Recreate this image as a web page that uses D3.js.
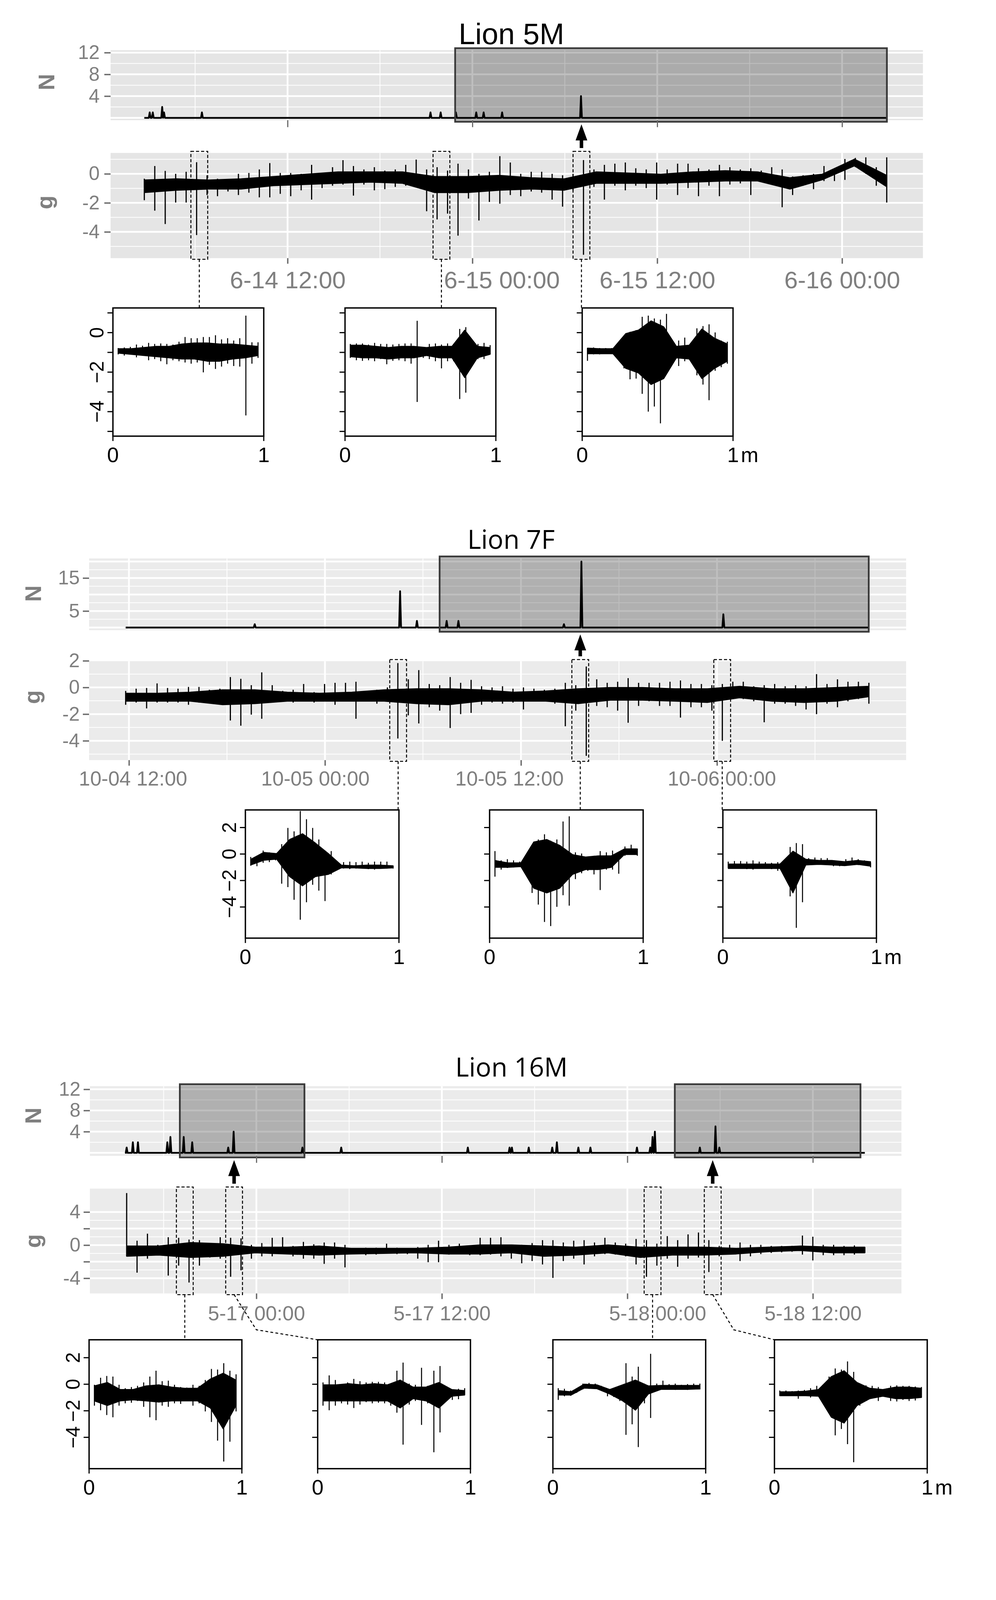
<!DOCTYPE html>
<html>
<head>
<meta charset="utf-8">
<title>Lion activity: N and g traces</title>
<script src="https://cdn.jsdelivr.net/npm/d3@7/dist/d3.min.js"></script>
<style>
  body { margin: 0; background: #fff; }
  svg { display: block; background: #fff; }
</style>
</head>
<body>
<svg id="vis" width="2549" height="4593"></svg>
<script>
// ---------- Lion 5M ----------
var lion5Ref = "2012-06-14T12:00:00";
var lion5TimeTicks = ["2012-06-14T12:00:00", "2012-06-15T00:00:00", "2012-06-15T12:00:00", "2012-06-16T00:00:00"];
var lion5TimeLabels = ["6-14 12:00", "6-15 00:00", "6-15 12:00", "6-16 00:00"];
var lion5NTicks = [4, 8, 12];
var lion5NLabels = ["4", "8", "12"];
var lion5GTicks = [0, -2, -4];
var lion5GLabels = ["0", "-2", "-4"];
var lion5Span = [-9.3, 38.9];            // hours from ref
var lion5NHours = [-8.95, -8.75, -8.14, -8.02, -5.56, 9.28, 9.94, 10.93, 12.25, 12.73, 13.93, 19.05];
var lion5NCounts = [1, 1, 2, 1, 1, 1, 1, 1, 1, 1, 1, 4];
var lion5GHi = [-0.34, 0.54, 0.2, 0, 0.14, 0.8, -0.1, -0.34, -0.42, 0, 0.06, 0.3, 0.74, 0.06, 0.06, 0, 0.62, 0.06,
  0.46, 0.94, 0.54, 0.3, 0.46, 0.22, 0.3, 0.62, 0.98, 0.3, 0.46, 0.22, 0.7, 0.3, 0, 0.14, 1.22, 0.78, 0, 0.14,
  0.14, 0, -0.1, 0, 0.95, 0.3, 0.62, 0.7, 0.78, 0.38, 0.3, 0.78, 0.3, 0.7, 0.7, 0.38, 0.3, 0.62, 0.46, 0.3,
  0.38, 0.22, 0.46, 0.3, -0.18, -0.1, 0, 0.54, 0.06, 1.02, 1.1, 1.14, 0.46, 1.14];
var lion5GLo = [-1.82, -2.54, -3.46, -1.98, -1.98, -4.22, -1.46, -1.54, -1.22, -1.46, -1.3, -1.62, -1.62, -1.38,
  -1.54, -1.14, -1.78, -0.98, -0.82, -0.74, -1.5, -0.74, -1.14, -1.06, -0.9, -0.82, -0.5, -2.58, -3.14, -2.74,
  -4.26, -1.7, -3.22, -1.94, -2.06, -1.46, -1.54, -1.22, -1.3, -1.78, -2.26, -1.14, -5.58, -0.9, -1.78, -0.82,
  -1.14, -0.82, -0.98, -1.78, -0.74, -1.46, -0.98, -1.54, -0.82, -1.54, -0.74, -0.66, -1.46, -0.5, -0.58, -2.3,
  -1.46, -0.82, -1.06, -0.5, -0.5, -0.42, 0.46, 0, -0.82, -1.98];
var lion5CoreHi = [-0.42, -0.34, -0.42, -0.34, -0.18, -0.02, 0.14, 0.14, 0.14, -0.18, -0.18, -0.1, -0.26, -0.34,
  0.14, 0.06, -0.02, 0.14, 0.22, 0.14, -0.26, -0.02, 1.02, -0.1];
var lion5CoreLo = [-1.3, -1.14, -1.06, -1.06, -0.82, -0.74, -0.66, -0.58, -0.66, -1.3, -1.3, -1.14, -1.06, -1.14,
  -0.66, -0.66, -0.66, -0.58, -0.5, -0.5, -1.06, -0.42, 0.54, -0.9];
var lion5Events = [-5.73, 9.99, 19.08];
var lion5Shade = [[10.88, 38.91]];
var lion5Arrows = [19.08];
var lion5InsetTicks = [1, 0, -1, -2, -3, -4, -5];
var lion5InsetLabels = ["", "0", "", "\u22122", "", "\u22124", ""];
var lion5InsetHi = [
  [-0.78, -0.75, -0.72, -0.6, -0.66, -0.52, -0.57, -0.55, -0.57, -0.6, -0.46, -0.22, -0.28, -0.28, -0.22, -0.22, -0.13, -0.34, -0.28, -0.4, -0.28, 0.86, -0.49, -0.49],
  [-0.57, -0.55, -0.55, -0.6, -0.52, -0.57, -0.57, -0.6, -0.57, -0.55, -0.55, 0.6, -0.87, -0.57, -0.55, -0.6, -0.55, -0.57, 0.19, 0.28, -0.55, -0.57, -0.52, -0.63],
  [-0.78, -0.75, -0.78, -0.78, -0.78, -0.75, -0.28, 0.04, 0.13, 0.8, 0.86, 0.72, 0.66, 0.95, -0.72, -0.4, -0.25, -0.57, 0.22, 0.33, 0.42, 0.01, -0.4, -0.46]];
var lion5InsetLo = [
  [-1.1, -1.16, -1.1, -1.25, -1.16, -1.4, -1.34, -1.45, -1.6, -1.4, -1.45, -1.51, -1.57, -1.51, -2.01, -1.63, -1.84, -1.72, -1.57, -1.69, -1.72, -4.19, -1.57, -1.28],
  [-1.28, -1.4, -1.43, -1.4, -1.45, -1.34, -1.6, -1.43, -1.4, -1.45, -1.57, -3.51, -1.28, -1.34, -1.45, -1.81, -1.45, -1.45, -3.36, -3.04, -1.4, -1.34, -1.34, -1.1],
  [-1.43, -1.1, -1.1, -1.07, -1.07, -1.07, -1.81, -2.36, -2.33, -3.1, -4.0, -3.74, -4.59, -2.04, -1.28, -1.69, -1.45, -1.22, -2.16, -2.63, -3.42, -1.93, -1.75, -1.57]];
var lion5InsetCoreHi = [
  [-0.81, -0.81, -0.75, -0.69, -0.69, -0.57, -0.52, -0.52, -0.57, -0.57, -0.63, -0.69],
  [-0.63, -0.63, -0.69, -0.75, -0.69, -0.69, -0.75, -0.69, -0.69, 0.13, -0.69, -0.75],
  [-0.78, -0.81, -0.81, -0.05, 0.13, 0.6, 0.3, -0.69, -0.63, 0.19, -0.28, -0.57]];
var lion5InsetCoreLo = [
  [-1.04, -1.1, -1.16, -1.22, -1.28, -1.34, -1.34, -1.45, -1.45, -1.34, -1.28, -1.16],
  [-1.22, -1.28, -1.28, -1.34, -1.28, -1.28, -1.16, -1.28, -1.28, -2.28, -1.28, -1.1],
  [-1.07, -1.07, -1.07, -1.81, -2.04, -2.63, -2.33, -1.28, -1.34, -2.33, -1.81, -1.45]];

// ---------- Lion 7F ----------
var lion7Ref = "2012-10-04T12:00:00";
var lion7TimeTicks = ["2012-10-04T12:00:00", "2012-10-05T00:00:00", "2012-10-05T12:00:00", "2012-10-06T00:00:00"];
var lion7TimeLabels = ["10-04 12:00", "10-05 00:00", "10-05 12:00", "10-06 00:00"];
var lion7NTicks = [5, 15];
var lion7NLabels = ["5", "15"];
var lion7GTicks = [2, 0, -2, -4];
var lion7GLabels = ["2", "0", "-2", "-4"];
var lion7Span = [-0.2, 45.3];
var lion7NHours = [7.7, 16.6, 17.63, 19.45, 20.17, 26.63, 27.7, 36.39];
var lion7NCounts = [1, 11, 2, 2, 2, 1, 20, 4];
var lion7GHi = [-0.26, -0.09, -0.04, 0.3, -0.04, -0.09, 0.04, 0.04, -0.17, -0.09, 0.78, 0.65, 0.17, 1.13, 0.17,
  -0.26, -0.17, 0.26, -0.35, 0.26, 0.35, 0.35, 0.43, -0.26, -0.17, 0, 1.83, 0.61, 1.3, 0.26, 0.17, 0.78, 0.35,
  0.57, 0.09, 0, 0.09, -0.09, 0, -0.09, -0.17, -0.09, 0.35, 0.17, 1.57, 0.61, 0.35, 0.43, 0.7, 0.35, 0.35, 0.35,
  0.43, 0.52, 0.26, 0.26, 0.17, 0.26, 0.43, 0.43, 0.09, 0.17, 0.26, 0.09, 0.17, 0.09, 1.0, 0.26, 0.61, 0.43,
  0.43, 0.35];
var lion7GLo = [-1.3, -1.13, -1.57, -1.13, -1.13, -1.13, -1.3, -1.13, -1.13, -1.22, -2.48, -2.87, -2.04, -2.35,
  -1.13, -1.04, -1.13, -1.04, -1.13, -1.04, -1.3, -1.04, -2.35, -1.04, -1.22, -1.04, -3.83, -2.09, -2.7, -1.48,
  -1.74, -3.04, -2.0, -1.91, -1.3, -1.13, -1.22, -1.13, -1.65, -1.04, -1.04, -1.22, -2.91, -1.74, -5.13, -1.39,
  -1.48, -1.74, -2.65, -1.39, -1.04, -1.39, -1.39, -2.26, -1.48, -1.48, -1.74, -4.0, -0.87, -0.87, -1.04, -2.61,
  -1.22, -1.22, -1.39, -1.65, -2.0, -1.22, -1.48, -1.04, -0.87, -1.22];
var lion7CoreHi = [-0.43, -0.43, -0.35, -0.17, -0.17, -0.35, -0.43, -0.35, -0.17, -0.09, -0.09, -0.17, -0.35,
  -0.26, -0.09, 0, 0, -0.09, -0.09, 0.09, -0.09, -0.09, 0, 0.09];
var lion7CoreLo = [-1.04, -1.04, -1.04, -1.3, -1.22, -1.04, -1.04, -1.04, -1.04, -1.22, -1.3, -1.04, -1.04,
  -1.04, -1.22, -0.96, -0.96, -1.04, -1.13, -0.78, -1.04, -1.13, -1.04, -0.7];
var lion7Events = [16.48, 27.63, 36.32];
var lion7Shade = [[19.02, 45.29]];
var lion7Arrows = [27.63];
var lion7InsetTicks = [2, 0, -2, -4];
var lion7InsetLabels = ["2", "0", "\u22122", "\u22124"];
var lion7InsetHi = [
  [-0.22, -0.39, 0.26, 0.13, 0.04, 0.75, 1.97, 1.71, 3.25, 2.63, 1.97, 1.1, 0.26, 0.22, -0.57, -0.61, -0.57, -0.61, -0.57, -0.66, -0.57, -0.57, -0.57, -0.88],
  [0.22, -0.48, -0.39, -0.48, -0.57, -0.48, 0.66, 1.1, 1.49, 1.01, 1.1, 2.46, 2.85, 0.13, 0.04, -0.22, -0.13, 0.22, 0.13, 0.26, 0.04, 0.57, 0.7, 0.39],
  [-0.57, -0.53, -0.53, -0.57, -0.48, -0.57, -0.61, -0.66, -0.61, -0.57, 0.53, 0.83, 0.75, -0.31, -0.26, -0.31, -0.31, -0.48, -0.57, -0.39, -0.26, -0.39, -0.48, -0.66]];
var lion7InsetLo = [
  [-0.88, -0.92, -0.66, -0.61, -0.48, -2.24, -2.5, -3.46, -4.96, -3.64, -2.32, -2.76, -3.55, -1.54, -1.14, -1.1, -1.14, -1.1, -1.05, -1.14, -1.18, -1.05, -1.1, -1.1],
  [-1.71, -1.18, -1.05, -1.01, -0.96, -1.01, -2.94, -3.82, -5.13, -5.44, -3.99, -3.11, -3.9, -1.89, -1.45, -1.27, -1.54, -2.72, -1.18, -1.18, -1.49, -0.13, 0.13, -0.13],
  [-1.05, -1.05, -1.1, -1.14, -1.18, -1.1, -1.1, -1.14, -1.27, -1.18, -3.2, -5.57, -3.64, -0.83, -0.75, -0.7, -0.75, -0.92, -0.92, -0.88, -0.79, -0.83, -0.79, -1.01]];
var lion7InsetCoreHi = [
  [-0.39, 0.13, 0.04, 1.1, 1.54, 0.83, 0.04, -0.83, -0.88, -0.83, -0.83, -0.88],
  [-0.48, -0.66, -0.66, 0.92, 1.1, 0.66, -0.04, -0.22, -0.13, -0.13, 0.39, 0.39],
  [-0.75, -0.75, -0.75, -0.75, -0.75, 0.22, -0.39, -0.48, -0.48, -0.57, -0.48, -0.57]];
var lion7InsetCoreLo = [
  [-0.83, -0.48, -0.39, -1.71, -2.41, -1.71, -1.54, -1.05, -1.05, -1.1, -1.1, -1.05],
  [-1.01, -1.01, -0.96, -2.59, -2.94, -2.59, -1.54, -1.18, -1.18, -1.01, -0.04, -0.04],
  [-1.1, -1.1, -1.1, -1.1, -1.1, -2.94, -0.83, -0.79, -0.83, -0.88, -0.79, -0.92]];

// ---------- Lion 16M ----------
var lion16Ref = "2012-05-17T00:00:00";
var lion16TimeTicks = ["2012-05-17T00:00:00", "2012-05-17T12:00:00", "2012-05-18T00:00:00", "2012-05-18T12:00:00"];
var lion16TimeLabels = ["5-17 00:00", "5-17 12:00", "5-18 00:00", "5-18 12:00"];
var lion16NTicks = [4, 8, 12];
var lion16NLabels = ["4", "8", "12"];
var lion16GTicks = [4, 2, 0, -2, -4];
var lion16GLabels = ["4", "", "0", "", "-4"];
var lion16Span = [-8.39, 39.36];
var lion16NHours = [-8.39, -7.99, -7.66, -5.76, -5.56, -4.7, -4.15, -1.82, -1.47, 2.98, 5.49, 13.68, 16.38, 16.53,
  17.62, 19.14, 19.44, 20.83, 21.61, 24.62, 25.48, 25.63, 25.78, 28.69, 29.7, 29.95];
var lion16NCounts = [1, 2, 2, 2, 3, 3, 2, 1, 4, 1, 1, 1, 1, 1, 1, 1, 2, 1, 1, 1, 1, 3, 4, 1, 5, 1];
var lion16GHi = [6.29, 0.53, 1.38, 0.04, 0.95, 0.88, 0.67, 0.6, 0.18, 0.95, 0.88, 0.81, 0.04, 0.25, 0.88, 0.95,
  -0.1, 0.39, 0.11, 0.32, 0.32, 0.04, -0.38, -0.31, -0.31, 0.18, -0.31, -0.38, -0.24, 0.04, 0.53, 0.04, 0.18,
  -0.1, 0.88, 0.88, 0.95, 0.04, 0.04, 0.25, 0.6, 0.6, 0.32, 0.53, 0.6, 0.32, 0.88, 0.32, 0.18, 0.74, 0.6, 0.18,
  1.09, 0.6, 1.3, 1.52, 0.6, -0.1, 0.04, 0.32, 0.04, 0.04, -0.1, -0.1, -0.1, 1.16, 1.02, 0.04, 0.04, -0.1,
  -0.03, -0.24];
var lion16GLo = [-1.36, -3.33, -1.64, -1.08, -3.68, -2.48, -4.52, -2.48, -1.5, -1.64, -3.82, -3.05, -1.64, -1.36,
  -1.36, -0.8, -1.36, -1.64, -1.64, -2.27, -1.64, -2.69, -1.08, -1.22, -1.15, -0.94, -1.08, -1.08, -1.64, -2.06,
  -2.06, -1.15, -1.08, -1.22, -1.22, -1.15, -1.36, -1.64, -2.2, -1.92, -2.34, -3.96, -1.92, -1.64, -2.34, -1.36,
  -1.08, -1.15, -1.36, -2.34, -3.82, -2.48, -1.64, -2.62, -1.64, -1.5, -3.26, -1.36, -1.08, -1.92, -1.36, -1.08,
  -0.94, -0.87, -0.8, -1.15, -1.85, -1.22, -1.22, -1.22, -1.15, -0.94];
var lion16CoreHi = [-0.1, -0.1, 0.32, 0.18, -0.24, -0.24, -0.1, -0.38, -0.38, -0.38, -0.24, 0.04, 0.04, -0.1,
  -0.24, 0.04, -0.24, -0.24, -0.24, -0.38, -0.24, -0.1, -0.24, -0.24];
var lion16CoreLo = [-1.36, -1.22, -1.5, -1.36, -0.94, -1.08, -1.22, -1.08, -1.01, -0.94, -1.08, -1.08, -0.94,
  -1.36, -1.22, -0.94, -1.5, -1.22, -1.22, -1.08, -0.8, -0.66, -0.94, -0.94];
var lion16Events = [-4.63, -1.44, 25.63, 29.52];
var lion16Shade = [[-4.95, 3.11], [27.07, 39.08]];
var lion16Arrows = [-1.44, 29.52];
var lion16InsetTicks = [2, 0, -2, -4];
var lion16InsetLabels = ["2", "0", "\u22122", "\u22124"];
var lion16InsetHi = [
  [-0.04, 0.49, 0.62, 0.58, -0.04, -0.3, -0.21, -0.12, 0.14, 0.58, 1.02, 0.23, 0.27, -0.04, -0.21, -0.25, -0.04, -0.12, 0.32, 1.15, 1.11, 1.59, 1.02, 0.75],
  [0.14, 0.67, 0.32, -0.04, 0.14, 0.4, 0.23, 0.14, 0.18, 0.18, 0.14, 0.05, 1.02, 1.63, 0.05, -0.04, 1.24, -0.12, 1.02, 1.37, -0.21, -0.39, -0.34, -0.3],
  [-0.3, -0.34, -0.47, -0.39, 0.05, 0.1, 0.05, -0.12, -0.34, -0.3, -0.21, 1.59, 0.58, 1.32, 0.05, 2.29, 0.05, 0.27, 0.01, 0.05, -0.04, 0.01, 0.05, 0.05],
  [-0.47, -0.47, -0.52, -0.47, -0.43, -0.3, -0.12, -0.04, 0.58, 1.19, 1.11, 1.72, 0.93, -0.04, -0.08, -0.12, -0.21, -0.39, -0.12, -0.08, -0.12, -0.12, -0.17, -0.21]];
var lion16InsetLo = [
  [-1.61, -1.96, -2.32, -2.49, -1.61, -1.44, -1.39, -1.26, -1.7, -2.49, -2.71, -1.61, -1.7, -1.44, -1.48, -1.26, -1.61, -1.44, -2.05, -2.84, -4.25, -5.82, -4.33, -2.05],
  [-1.61, -1.96, -1.61, -1.44, -1.53, -1.79, -1.53, -1.35, -1.44, -1.39, -1.44, -1.61, -2.14, -4.55, -1.53, -1.26, -3.06, -1.44, -5.12, -3.63, -1.09, -1.18, -1.13, -0.82],
  [-1.18, -0.91, -0.87, -0.65, -0.39, -0.34, -0.34, -0.47, -0.91, -0.96, -1.26, -3.81, -3.02, -4.73, -1.44, -2.54, -0.39, -0.39, -0.39, -0.43, -0.39, -0.43, -0.34, -0.39],
  [-0.87, -0.87, -0.87, -1.09, -0.82, -1.0, -0.91, -1.26, -1.96, -3.85, -3.37, -4.51, -5.87, -1.61, -1.26, -0.91, -1.26, -0.87, -1.26, -1.3, -1.18, -1.26, -1.22, -1.0]];
var lion16InsetCoreHi = [
  [-0.12, 0.14, -0.39, -0.39, -0.12, -0.04, -0.21, -0.3, -0.3, 0.4, 0.84, 0.32],
  [-0.04, -0.04, 0.05, -0.04, 0.05, -0.04, 0.32, -0.21, -0.21, 0.14, -0.39, -0.47],
  [-0.47, -0.56, 0.01, -0.04, -0.39, -0.04, 0.32, -0.12, -0.08, -0.08, -0.08, -0.08],
  [-0.56, -0.56, -0.52, -0.39, 0.58, 1.02, 0.14, -0.3, -0.39, -0.21, -0.21, -0.3]];
var lion16InsetCoreLo = [
  [-1.26, -1.61, -1.26, -1.18, -1.26, -1.35, -1.26, -1.26, -1.26, -1.79, -3.37, -1.61],
  [-1.26, -1.26, -1.26, -1.26, -1.26, -1.26, -1.79, -1.09, -1.26, -1.79, -0.91, -0.82],
  [-0.82, -0.82, -0.3, -0.34, -0.74, -1.26, -1.96, -0.74, -0.39, -0.39, -0.39, -0.36],
  [-0.87, -0.87, -0.87, -0.91, -2.49, -2.93, -1.61, -1.09, -0.91, -1.09, -1.09, -1.0]];

var insetSpan = [0.035, 0.962];           // minutes covered by each zoomed trace
var insetXTicks = [0, 1];

// ---------- layout (pixels, designed for a 2549 x 4593 page) ----------
var lions = [
  { title: "Lion 5M", titleFont: "'Liberation Sans', Arial, sans-serif", titleSize: 76, titleX: 1309, titleY: 127,
    tickFont: "'Liberation Sans Narrow', 'Liberation Sans', sans-serif", xTickSize: 62, yTickSize: 50, xLabelPad: 26,
    xLabelDx: [0, 75, 0, 0], left: 283, right: 2362, xDomainH: [-11.49, 41.25], bg: "#E5E5E5",
    nTop: 144, nBottom: 345, nDomain: [-0.43, 12.45], nMajor: [0, 4, 8, 12], nMinor: [2, 6, 10], nXTicks: true,
    gTop: 439, gBottom: 741, gDomain: [-5.81, 1.44], gMajor: [0, -2, -4], gMinor: [1, -1, -3, -5],
    yLabelPad: 12, nTitleX: 118, gTitleX: 125, nTitleDy: -9, gTitleDy: -9,
    insetLefts: [289, 883, 1490], insetW: 386, insetTop: 884, insetBottom: 1252, insetDomain: [-5.24, 1.25],
    bends: [null, null, null],
    ref: lion5Ref, ticks: lion5TimeTicks, tickLabels: lion5TimeLabels, nTicks: lion5NTicks, nLabels: lion5NLabels,
    gTicks: lion5GTicks, gLabels: lion5GLabels, span: lion5Span, nHours: lion5NHours, nCounts: lion5NCounts,
    gHi: lion5GHi, gLo: lion5GLo, coreHi: lion5CoreHi, coreLo: lion5CoreLo,
    events: lion5Events, shade: lion5Shade, arrows: lion5Arrows,
    insetTicks: lion5InsetTicks, insetLabels: lion5InsetLabels, insetHi: lion5InsetHi, insetLo: lion5InsetLo,
    insetCoreHi: lion5InsetCoreHi, insetCoreLo: lion5InsetCoreLo },
  { title: "Lion 7F", titleFont: "'Open Sans', sans-serif", titleSize: 67, titleX: 1308, titleY: 1575,
    tickFont: "'Liberation Sans', Arial, sans-serif", xTickSize: 52, yTickSize: 50, xLabelPad: 20,
    xLabelDx: [10, -25, -30, 12], left: 228, right: 2319, xDomainH: [-2.44, 47.58], bg: "#EBEBEB",
    nTop: 1603, nBottom: 1809, nDomain: [-0.81, 20.94], nMajor: [0, 5, 10, 15, 20], nMinor: [2.5, 7.5, 12.5, 17.5], nXTicks: false,
    gTop: 1898, gBottom: 2182, gDomain: [-5.45, 1.97], gMajor: [2, 0, -2, -4], gMinor: [1, -1, -3, -5],
    yLabelPad: 8, nTitleX: 84, gTitleX: 93, nTitleDy: -2, gTitleDy: -39,
    insetLefts: [628, 1253, 1850], insetW: 393, insetTop: 2325, insetBottom: 2693, insetDomain: [-6.35, 3.33],
    bends: [null, null, null],
    ref: lion7Ref, ticks: lion7TimeTicks, tickLabels: lion7TimeLabels, nTicks: lion7NTicks, nLabels: lion7NLabels,
    gTicks: lion7GTicks, gLabels: lion7GLabels, span: lion7Span, nHours: lion7NHours, nCounts: lion7NCounts,
    gHi: lion7GHi, gLo: lion7GLo, coreHi: lion7CoreHi, coreLo: lion7CoreLo,
    events: lion7Events, shade: lion7Shade, arrows: lion7Arrows,
    insetTicks: lion7InsetTicks, insetLabels: lion7InsetLabels, insetHi: lion7InsetHi, insetLo: lion7InsetLo,
    insetCoreHi: lion7InsetCoreHi, insetCoreLo: lion7InsetCoreLo },
  { title: "Lion 16M", titleFont: "'Open Sans', sans-serif", titleSize: 67, titleX: 1309, titleY: 3090,
    tickFont: "'Liberation Sans', Arial, sans-serif", xTickSize: 52, yTickSize: 50, xLabelPad: 24,
    xLabelDx: [0, 0, 77, 0], left: 230, right: 2307, xDomainH: [-10.77, 41.73], bg: "#EBEBEB",
    nTop: 3118, nBottom: 3318, nDomain: [-0.57, 12.59], nMajor: [0, 4, 8, 12], nMinor: [2, 6, 10], nXTicks: true,
    gTop: 3412, gBottom: 3713, gDomain: [-5.84, 6.83], gMajor: [4, 2, 0, -2, -4], gMinor: [3, 1, -1, -3],
    yLabelPad: 8, nTitleX: 84, gTitleX: 95, nTitleDy: -15, gTitleDy: 0,
    insetLefts: [228, 813, 1415, 1982], insetW: 391, insetTop: 3846, insetBottom: 4216, insetDomain: [-6.36, 3.35],
    bends: [null, [57, 101], null, [54, 101]],
    ref: lion16Ref, ticks: lion16TimeTicks, tickLabels: lion16TimeLabels, nTicks: lion16NTicks, nLabels: lion16NLabels,
    gTicks: lion16GTicks, gLabels: lion16GLabels, span: lion16Span, nHours: lion16NHours, nCounts: lion16NCounts,
    gHi: lion16GHi, gLo: lion16GLo, coreHi: lion16CoreHi, coreLo: lion16CoreLo,
    events: lion16Events, shade: lion16Shade, arrows: lion16Arrows,
    insetTicks: lion16InsetTicks, insetLabels: lion16InsetLabels, insetHi: lion16InsetHi, insetLo: lion16InsetLo,
    insetCoreHi: lion16InsetCoreHi, insetCoreLo: lion16InsetCoreLo }
];

// the window may be shorter than the page the layout was made for: squeeze the vertical positions
var PAGE_H = 4593;
var SY = Math.min(1, (window.innerHeight || PAGE_H) / PAGE_H);
lions.forEach(function (L) {
  ["titleY", "nTop", "nBottom", "gTop", "gBottom", "insetTop", "insetBottom", "nTitleDy", "gTitleDy"]
    .forEach(function (k) { L[k] *= SY; });
  L.bends = L.bends.map(function (b) { return b ? [b[0], b[1] * SY] : null; });
});

var svg = d3.select("#vis").attr("height", Math.ceil(PAGE_H * SY));
var GREY = "#7f7f7f";
var INSET_FONT = 50;

function at(ref, h) { return new Date(ref.getTime() + h * 3600000); }

// values per bin, spread evenly over [t0, t1]: [t, hi, lo]
function bins(t0, t1, hi, lo) {
  var n = hi.length, step = (t1 - t0) / (n - 1);
  return hi.map(function (v, i) { return [t0 + i * step, v, lo[i]]; });
}

// count series: zero everywhere except the counted bins
function countSeries(t0, t1, hours, vals) {
  var hw = 0.06, pts = [[t0, 0]];
  hours.forEach(function (h, i) { pts.push([h - hw, 0], [h, vals[i]], [h + hw, 0]); });
  pts.push([t1, 0]);
  return pts;
}

function styleAxis(sel, font, size) {
  sel.select(".domain").remove();
  sel.selectAll(".tick line").attr("stroke", "#6b6b6b").attr("stroke-width", 3.5);
  sel.selectAll(".tick text").attr("fill", GREY)
    .style("font-family", font).style("font-size", size + "px");
}

function hGrid(g, L, y, vals, width) {
  var dom = y.domain();
  g.selectAll(null).data(vals.filter(function (v) { return v > dom[0] && v < dom[1]; }))
    .enter().append("line")
    .attr("x1", L.left).attr("x2", L.right)
    .attr("y1", function (v) { return y(v); }).attr("y2", function (v) { return y(v); })
    .attr("stroke", "#fff").attr("stroke-width", width);
}

function vGrid(g, x, dates, top, bottom, width) {
  var dom = x.domain();
  g.selectAll(null).data(dates.filter(function (d) { return d > dom[0] && d < dom[1]; }))
    .enter().append("line")
    .attr("x1", function (d) { return x(d); }).attr("x2", function (d) { return x(d); })
    .attr("y1", top).attr("y2", bottom)
    .attr("stroke", "#fff").attr("stroke-width", width);
}

// dense core as a filled band, per-bin extremes as vertical strokes
function drawTrace(g, xf, y, t0, t1, hi, lo, cHi, cLo, width) {
  var band = d3.area().x(function (d) { return xf(d[0]); })
    .y0(function (d) { return y(d[2]); }).y1(function (d) { return y(d[1]); });
  g.append("path").datum(bins(t0, t1, cHi, cLo)).attr("d", band)
    .attr("fill", "#000").attr("stroke", "#000").attr("stroke-width", 2).attr("stroke-linejoin", "round");
  var spikes = bins(t0, t1, hi, lo).map(function (d) {
    var px = xf(d[0]);
    return "M" + px + "," + y(d[1]) + "V" + y(d[2]);
  }).join("");
  g.append("path").attr("d", spikes).attr("fill", "none").attr("stroke", "#000")
    .attr("stroke-width", width).attr("stroke-linecap", "butt");
}

function drawLion(L) {
  var ref = new Date(L.ref);
  var g = svg.append("g");
  var x = d3.scaleTime().domain([at(ref, L.xDomainH[0]), at(ref, L.xDomainH[1])]).range([L.left, L.right]);
  var yN = d3.scaleLinear().domain(L.nDomain).range([L.nBottom, L.nTop]);
  var yG = d3.scaleLinear().domain(L.gDomain).range([L.gBottom, L.gTop]);
  var xh = function (h) { return x(at(ref, h)); };

  var majors = L.ticks.map(function (s) { return new Date(s); });
  var minors = majors.map(function (d) { return d3.timeHour.offset(d, -6); })
    .concat([d3.timeHour.offset(majors[majors.length - 1], 6)]);

  g.append("text").text(L.title)
    .attr("x", L.titleX).attr("y", L.titleY).attr("text-anchor", "middle")
    .style("font-family", L.titleFont).style("font-size", L.titleSize + "px").attr("fill", "#000");

  // ---- panel backgrounds and grids ----
  [[L.nTop, L.nBottom, yN, L.nMajor, L.nMinor], [L.gTop, L.gBottom, yG, L.gMajor, L.gMinor]].forEach(function (p) {
    g.append("rect").attr("x", L.left).attr("y", p[0]).attr("width", L.right - L.left)
      .attr("height", p[1] - p[0]).attr("fill", L.bg);
    hGrid(g, L, p[2], p[4], 2);
    vGrid(g, x, minors, p[0], p[1], 2);
    hGrid(g, L, p[2], p[3], 4.5);
    vGrid(g, x, majors, p[0], p[1], 4.5);
  });

  // ---- N trace ----
  var nLine = d3.line().x(function (d) { return xh(d[0]); }).y(function (d) { return yN(d[1]); });
  g.append("path").datum(countSeries(L.span[0], L.span[1], L.nHours, L.nCounts))
    .attr("d", nLine).attr("fill", "none").attr("stroke", "#000")
    .attr("stroke-width", 4.5).attr("stroke-linejoin", "round");

  // shaded periods
  g.selectAll(null).data(L.shade).enter().append("rect")
    .attr("x", function (s) { return xh(s[0]); })
    .attr("width", function (s) { return xh(s[1]) - xh(s[0]); })
    .attr("y", L.nTop - 5).attr("height", L.nBottom - L.nTop + 9)
    .attr("fill", "#000").attr("fill-opacity", 0.25)
    .attr("stroke", "#3a3a3a").attr("stroke-width", 4.5);

  // ---- g trace ----
  drawTrace(g, xh, yG, L.span[0], L.span[1], L.gHi, L.gLo, L.coreHi, L.coreLo, 3);

  // ---- axes ----
  var axN = g.append("g").attr("transform", "translate(" + L.left + ",0)")
    .call(d3.axisLeft(yN).tickValues(L.nTicks).tickSize(16).tickPadding(L.yLabelPad)
      .tickFormat(function (d, i) { return L.nLabels[i]; }));
  styleAxis(axN, L.tickFont, L.yTickSize);
  var axG = g.append("g").attr("transform", "translate(" + L.left + ",0)")
    .call(d3.axisLeft(yG).tickValues(L.gTicks).tickSize(16).tickPadding(L.yLabelPad)
      .tickFormat(function (d, i) { return L.gLabels[i]; }));
  styleAxis(axG, L.tickFont, L.yTickSize);
  if (L.nXTicks) {
    var axNX = g.append("g").attr("transform", "translate(0," + L.nBottom + ")")
      .call(d3.axisBottom(x).tickValues(majors).tickSize(20 * SY).tickFormat(""));
    styleAxis(axNX, L.tickFont, L.xTickSize);
    axNX.selectAll(".tick line").attr("stroke-width", 3);
  }
  var tl = 16 * SY, asc = 0.71 * L.xTickSize;
  var xPad = (16 + L.xLabelPad + asc) * SY - tl - asc;
  var axX = g.append("g").attr("transform", "translate(0," + L.gBottom + ")")
    .call(d3.axisBottom(x).tickValues(majors).tickSize(tl).tickPadding(xPad)
      .tickFormat(function (d, i) { return L.tickLabels[i]; }));
  styleAxis(axX, L.tickFont, L.xTickSize);
  axX.selectAll(".tick text").attr("dx", function (d, i) { return L.xLabelDx[i]; });

  // axis titles
  g.append("text").text("N")
    .attr("transform", "translate(" + (L.nTitleX + 21) + "," + ((L.nTop + L.nBottom) / 2 + L.nTitleDy) + ") rotate(-90)")
    .attr("text-anchor", "middle").attr("fill", GREY).style("font-weight", "bold")
    .style("font-family", "'Liberation Sans', Arial, sans-serif").style("font-size", "58px");
  g.append("text").text("g")
    .attr("transform", "translate(" + (L.gTitleX + 9) + "," + ((L.gTop + L.gBottom) / 2 + L.gTitleDy) + ") rotate(-90)")
    .attr("text-anchor", "middle").attr("fill", GREY).style("font-weight", "bold")
    .style("font-family", "'Liberation Sans', Arial, sans-serif").style("font-size", "58px");

  // arrows from the g panel up to the N panel
  L.arrows.forEach(function (a) {
    var ax = xh(a), tip = L.nBottom + 12 * SY, tail = L.gTop - 14 * SY, head = 46 * SY;
    g.append("line").attr("x1", ax).attr("x2", ax).attr("y1", tail).attr("y2", tip + head - 6)
      .attr("stroke", "#000").attr("stroke-width", 9);
    g.append("path").attr("d", "M" + ax + "," + tip + " L" + (ax - 15) + "," + (tip + head) +
      " L" + (ax + 15) + "," + (tip + head) + " Z").attr("fill", "#000");
  });

  // dotted boxes marking the zoomed minutes, and their connectors
  var boxB = L.gBottom + 3;
  L.events.forEach(function (e, k) {
    var cx = xh(e);
    g.append("rect").attr("x", cx - 21.5).attr("y", L.gTop - 4).attr("width", 43)
      .attr("height", boxB - L.gTop + 4).attr("fill", "none").attr("stroke", "#000")
      .attr("stroke-width", 2.5).attr("stroke-dasharray", "8,5");
    var il = L.insetLefts[k], bend = L.bends[k];
    var pts = bend ? [[cx, boxB], [cx + bend[0], boxB + bend[1]], [il, L.insetTop]]
                   : [[cx, boxB], [cx, L.insetTop]];
    g.append("path").attr("d", d3.line()(pts)).attr("fill", "none").attr("stroke", "#000")
      .attr("stroke-width", 2.5).attr("stroke-dasharray", "7,6");
  });

  // ---- insets ----
  var yi = d3.scaleLinear().domain(L.insetDomain).range([L.insetBottom, L.insetTop]);
  var labY = L.insetBottom + 74 * SY;
  L.insetLefts.forEach(function (il, k) {
    var xi = d3.scaleLinear().domain([0, 1]).range([il, il + L.insetW]);
    var ig = g.append("g");
    drawTrace(ig, xi, yi, insetSpan[0], insetSpan[1], L.insetHi[k], L.insetLo[k],
      L.insetCoreHi[k], L.insetCoreLo[k], 2.6);
    ig.append("rect").attr("x", il).attr("y", L.insetTop).attr("width", L.insetW)
      .attr("height", L.insetBottom - L.insetTop).attr("fill", "none").attr("stroke", "#000").attr("stroke-width", 3.5);
    ig.selectAll(null).data(L.insetTicks).enter().append("line")
      .attr("x1", il).attr("x2", il - 14)
      .attr("y1", function (v) { return yi(v); }).attr("y2", function (v) { return yi(v); })
      .attr("stroke", "#000").attr("stroke-width", 3);
    ig.selectAll(null).data(insetXTicks).enter().append("line")
      .attr("x1", function (v) { return xi(v); }).attr("x2", function (v) { return xi(v); })
      .attr("y1", L.insetBottom).attr("y2", L.insetBottom + 14 * SY)
      .attr("stroke", "#000").attr("stroke-width", 3);
    ig.selectAll(null).data(insetXTicks).enter().append("text")
      .text(function (v) { return String(v); })
      .attr("x", function (v) { return xi(v); }).attr("y", labY)
      .attr("text-anchor", "middle").attr("fill", "#000")
      .style("font-family", "'Liberation Sans', Arial, sans-serif").style("font-size", (INSET_FONT + 4) + "px");
    if (k === L.insetLefts.length - 1) {
      ig.append("text").text("m").attr("x", xi(1) + 20).attr("y", labY)
        .attr("fill", "#000").style("font-family", "'Liberation Sans', Arial, sans-serif")
        .style("font-size", (INSET_FONT + 4) + "px");
    }
    if (k === 0) {
      ig.selectAll(null).data(L.insetTicks).enter().append("text")
        .text(function (v, i) { return L.insetLabels[i]; })
        .attr("transform", function (v) { return "translate(" + (il - 24) + "," + yi(v) + ") rotate(-90)"; })
        .attr("text-anchor", "middle").attr("fill", "#000")
        .style("font-family", "'Liberation Sans', Arial, sans-serif").style("font-size", INSET_FONT + "px");
    }
  });
}

lions.forEach(drawLion);
</script>
</body>
</html>
